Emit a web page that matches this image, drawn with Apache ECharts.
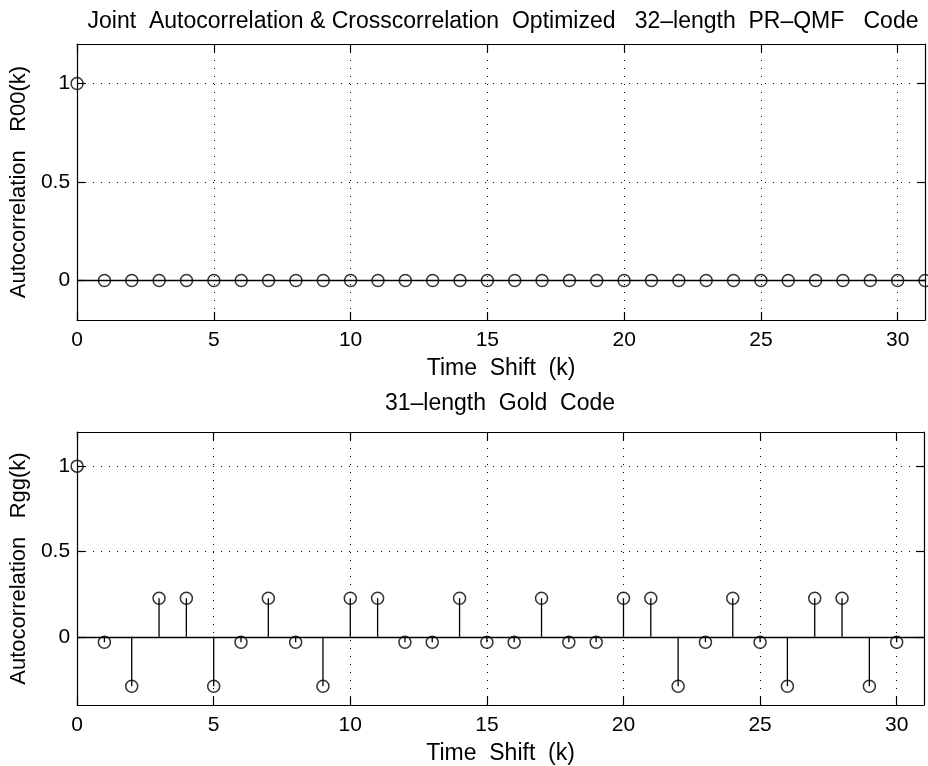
<!DOCTYPE html>
<html>
<head>
<meta charset="utf-8">
<script src="https://cdn.jsdelivr.net/npm/echarts@6/dist/echarts.min.js"></script>
<style>html,body{margin:0;padding:0;background:#fff;}#c{width:928px;height:766px;}</style>
</head>
<body>
<div id="c"></div>
<script>
// ---- data ----
const kTop = [0,1,2,3,4,5,6,7,8,9,10,11,12,13,14,15,16,17,18,19,20,21,22,23,24,25,26,27,28,29,30,31];
const r00  = [1,0,0,0,0,0,0,0,0,0,0,0,0,0,0,0,0,0,0,0,0,0,0,0,0,0,0,0,0,0,0,0];
const kBot = [0,1,2,3,4,5,6,7,8,9,10,11,12,13,14,15,16,17,18,19,20,21,22,23,24,25,26,27,28,29,30];
const rgg  = [1,-0.032,-0.29,0.226,0.226,-0.29,-0.032,0.226,-0.032,-0.29,0.226,0.226,-0.032,-0.032,0.226,-0.032,-0.032,0.226,-0.032,-0.032,0.226,0.226,-0.29,-0.032,0.226,-0.032,-0.29,0.226,0.226,-0.29,-0.032];
const xTicks = [0,5,10,15,20,25,30];
const yTicks = [0,0.5,1];
const titleTop = 'Joint  Autocorrelation & Crosscorrelation  Optimized   32\u2013length  PR\u2013QMF   Code';
const titleBot = '31\u2013length  Gold  Code';
const yNameTop = 'Autocorrelation   R00(k)';
const yNameBot = 'Autocorrelation   Rgg(k)';
const xName = 'Time  Shift  (k)';

const FONT = 'Liberation Sans';
const FS_TICK = 21;
const FS_TEXT = 23;
const ink = '#000';

function pairs(ks, vs){ return ks.map((k,i)=>[k, vs[i]]); }

function xAx(gi, pos){
  const main = pos === 'bottom';
  return {
    type:'value', gridIndex:gi, position:pos, min:0, max:31,
    name: main ? xName : '', nameLocation:'middle', nameGap:37,
    nameTextStyle:{fontFamily:FONT, fontSize:FS_TEXT, color:ink},
    axisLine:{show:true, onZero:false, lineStyle:{color:ink, width:1.2}},
    axisTick:{show:true, inside:true, length:8, customValues:xTicks, lineStyle:{color:ink, width:1.2}},
    axisLabel:{show:main, customValues:xTicks, margin:10, fontFamily:FONT, fontSize:FS_TICK, color:ink},
    splitLine:{show:main, lineStyle:{color:ink, width:1, type:[1,7]}}
  };
}
function yAx(gi, pos, min, name){
  const main = pos === 'left';
  return {
    type:'value', gridIndex:gi, position:pos, min:min, max:1.2,
    name: main ? name : '', nameLocation:'middle', nameGap:37,
    nameTextStyle:{fontFamily:FONT, fontSize:22, color:ink},
    axisLine:{show:true, onZero:false, lineStyle:{color:ink, width:1.2}},
    axisTick:{show:true, inside:true, length:8, customValues:yTicks, lineStyle:{color:ink, width:1.2}},
    axisLabel:{show:main, customValues:yTicks, margin:7, fontFamily:FONT, fontSize:FS_TICK, color:ink},
    splitLine:{show:main, lineStyle:{color:ink, width:1, type:[1,7]}}
  };
}

function stemSeries(xi, yi, data){
  return [{
    type:'custom', xAxisIndex:xi, yAxisIndex:yi, data:data, clip:true, silent:true,
    renderItem:function(params, api){
      const p0 = api.coord([api.value(0), 0]);
      const p1 = api.coord([api.value(0), api.value(1)]);
      return {type:'line', shape:{x1:p0[0], y1:p0[1], x2:p1[0], y2:p1[1]},
              style:{stroke:ink, lineWidth:1.3}};
    },
    z:2
  },{
    type:'scatter', xAxisIndex:xi, yAxisIndex:yi, data:data, clip:true, silent:true,
    symbol:'circle', symbolSize:12,
    itemStyle:{color:'rgba(0,0,0,0)', borderColor:ink, borderWidth:1.5},
    markLine:{silent:true, symbol:'none', label:{show:false},
      lineStyle:{color:ink, width:1.3, type:'solid'}, data:[{yAxis:0}]},
    z:3
  }];
}

const chart = echarts.init(document.getElementById('c'), null, {renderer:'canvas'});
chart.setOption({
  backgroundColor:'#fff',
  animation:false,
  title:[
    {text:titleTop, left:498, top:5, textAlign:'center',
     textStyle:{fontFamily:FONT, fontSize:FS_TEXT, fontWeight:'normal', color:ink}},
    {text:titleBot, left:495, top:387, textAlign:'center',
     textStyle:{fontFamily:FONT, fontSize:FS_TEXT, fontWeight:'normal', color:ink}}
  ],
  grid:[
    {left:75, top:44, width:850, height:276, containLabel:false},
    {left:75, top:432, width:849, height:275, containLabel:false}
  ],
  xAxis:[xAx(0,'bottom'), xAx(0,'top'), xAx(1,'bottom'), xAx(1,'top')],
  yAxis:[yAx(0,'left',-0.2,yNameTop), yAx(0,'right',-0.2,''), yAx(1,'left',-0.4,yNameBot), yAx(1,'right',-0.4,'')],
  series:[].concat(stemSeries(0,0,pairs(kTop,r00)), stemSeries(2,2,pairs(kBot,rgg)))
});
</script>
</body>
</html>
